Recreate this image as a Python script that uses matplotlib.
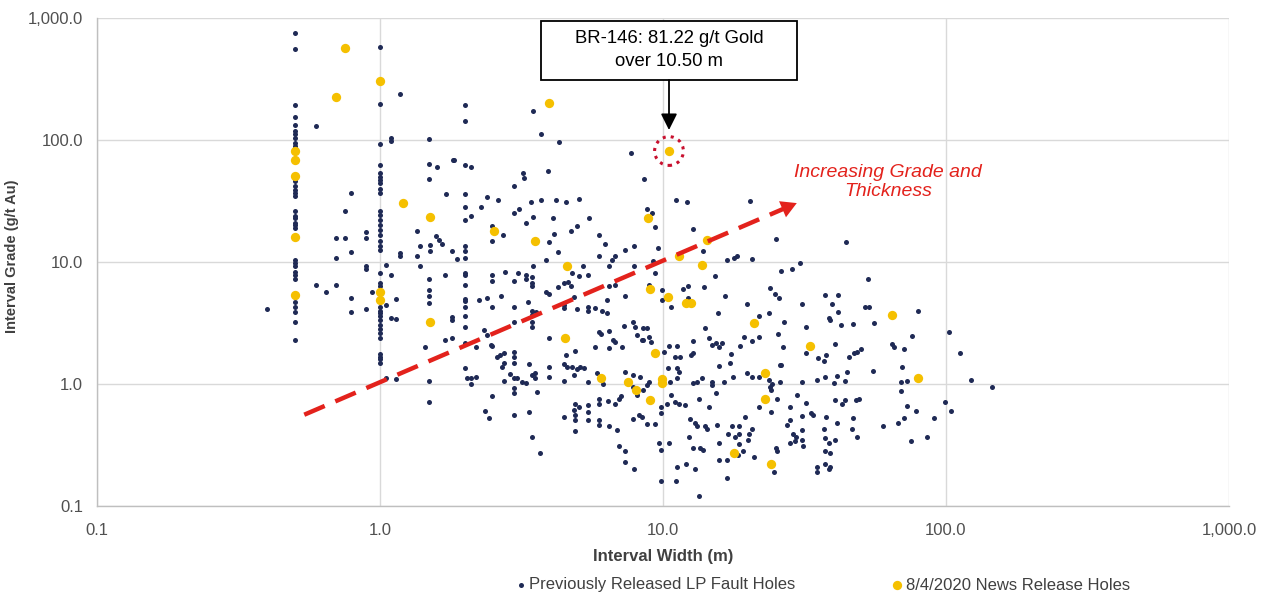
import matplotlib
matplotlib.use("Agg")
import matplotlib.pyplot as plt
from matplotlib.ticker import FuncFormatter, FixedLocator, NullLocator
from matplotlib.patches import Rectangle

plt.rcParams['font.family'] = ['Liberation Sans', 'DejaVu Sans']

# ---------------- data ----------------
col05_grade = [754, 560, 193, 155, 132, 119, 111, 103, 94, 89, 46, 42, 39, 37, 35, 26, 24, 23,
               21, 20, 19, 10.4, 9.8, 9.2, 8.3, 7.8, 7.3, 5.5, 5.2, 4.7, 4.3, 3.9, 3.2, 2.3]
col10_grade = [575, 197, 93, 62, 54, 50, 47, 44, 40, 37, 26.3, 24.4, 22.2, 20.2, 18.4, 16.7, 14.8,
               13.5, 12.6, 8.1, 6.7, 6.3, 4.3, 4.0, 3.8, 3.6, 3.35, 3.05, 2.8, 2.6, 2.4, 1.76,
               1.67, 1.59, 1.50]

prev_pts = [
    (1.18, 238), (0.594, 130), (1.09, 103), (1.09, 98), (1.49, 102), (1.49, 63), (1.59, 60), (1.49, 48),
    (1.71, 36), (1.81, 68), (0.79, 37), (0.75, 26), (1.35, 18.1), (0.89, 17.5), (0.89, 15.7), (0.70, 15.7),
    (0.75, 15.7), (1.58, 16.2), (1.61, 15.2), (1.65, 14.1), (1.39, 13.5), (1.50, 13.8), (1.50, 12.2),
    (0.79, 12.0), (1.18, 11.8), (1.18, 11.1), (0.70, 10.8), (1.35, 11.1), (1.79, 12.2), (1.05, 9.4),
    (1.39, 9.2), (0.89, 9.2),
    (0.40, 4.1), (0.594, 6.5), (0.70, 6.5), (0.645, 5.7), (0.79, 5.1), (0.79, 3.9), (0.89, 8.7), (0.89, 4.1),
    (0.94, 5.7), (1.09, 7.8), (1.14, 5.0), (1.05, 4.4), (1.09, 3.5), (1.14, 3.4), (1.05, 1.13), (1.14, 1.09),
    (1.49, 7.2), (1.49, 5.9), (1.49, 5.3), (1.49, 4.6), (1.70, 7.8), (1.70, 2.3), (1.80, 2.37), (1.44, 2.0),
    (1.49, 1.06), (1.49, 0.71),
    (1.99, 193), (1.99, 144), (3.46, 174), (3.70, 113), (4.30, 96), (7.71, 78), (1.83, 68), (1.99, 62),
    (2.09, 60), (3.92, 56), (3.19, 54), (3.23, 49), (2.98, 42), (8.57, 48), (1.99, 36), (1.99, 28),
    (1.99, 22), (2.09, 24), (2.39, 34), (2.62, 32), (2.28, 28), (3.41, 31), (3.70, 32), (4.19, 32),
    (4.56, 31), (5.06, 33), (3.11, 27), (2.98, 25), (3.46, 23.4), (3.27, 21), (4.09, 23), (5.48, 23),
    (2.48, 19.6), (2.48, 15), (2.71, 16.5), (3.97, 14.6), (4.12, 17), (4.72, 18.1), (4.95, 19.6),
    (5.93, 16.5), (6.25, 14), (4.25, 12.0), (5.93, 11.1), (7.36, 12.6), (7.93, 13.6), (6.78, 11.1),
    (6.60, 10.3), (1.87, 10.6), (1.99, 13.5), (1.99, 12.2), (1.99, 10.8), (3.86, 10.3), (5.23, 9.3),
    (6.43, 9.3), (7.87, 9.3), (3.46, 9.2),
    (1.99, 8.2), (1.99, 7.8), (1.99, 6.5), (1.99, 5.0), (1.99, 4.8), (1.99, 4.3), (1.99, 3.6), (1.99, 2.95),
    (1.99, 2.16), (1.99, 1.35), (1.80, 3.56), (1.80, 3.35), (2.03, 1.11), (2.09, 1.11), (2.18, 1.15),
    (2.09, 1.0), (2.24, 4.9), (2.39, 5.1), (2.48, 7.8), (2.48, 7.0), (2.48, 4.25), (2.68, 5.3), (2.77, 8.25),
    (2.98, 7.0), (3.08, 8.2), (3.27, 7.2), (3.45, 7.6), (3.45, 6.75), (3.45, 6.35), (3.27, 7.8), (2.98, 4.25),
    (2.98, 3.24), (3.33, 4.7), (3.45, 4.0), (3.57, 3.9), (3.45, 3.7), (3.45, 3.24), (3.45, 2.95), (3.87, 5.7),
    (3.95, 5.5), (4.25, 6.2), (4.46, 6.7), (4.61, 6.9), (4.74, 6.35), (4.83, 5.2), (4.46, 4.4), (4.46, 4.2),
    (4.95, 4.1), (4.77, 8.1), (5.04, 7.7), (5.45, 7.8), (5.45, 4.3), (5.45, 4.0), (5.77, 4.2), (6.08, 4.0),
    (6.33, 3.8), (6.33, 4.9), (6.78, 6.5), (6.43, 6.35), (7.34, 5.25),
    (5.92, 2.68), (6.04, 2.57), (6.43, 2.73), (6.78, 2.22), (6.64, 2.3), (7.15, 2.0), (5.77, 2.0), (6.43, 1.96),
    (7.29, 2.99), (7.84, 3.24), (8.08, 2.52), (8.43, 2.3), (7.95, 2.95), (3.97, 2.37), (4.88, 1.87),
    (4.55, 1.73), (4.46, 1.46), (4.58, 1.37), (4.77, 1.39), (4.95, 1.32), (5.11, 1.37), (5.25, 1.35),
    (4.83, 1.19), (3.97, 1.39), (3.97, 1.15), (4.46, 1.06),
    (2.66, 1.73), (2.59, 1.67), (2.74, 1.79), (2.97, 1.84), (2.97, 1.67), (2.74, 1.48), (2.70, 1.39),
    (2.97, 1.50), (3.36, 1.46), (2.88, 1.21), (2.97, 1.13), (2.74, 1.06), (3.05, 1.13), (3.18, 1.04),
    (3.27, 1.01), (3.45, 1.19), (3.54, 1.22), (3.52, 1.11), (3.59, 0.86), (3.36, 0.59), (3.45, 0.37),
    (3.69, 0.27), (2.97, 0.92), (2.97, 0.84), (2.97, 0.56), (2.48, 0.79), (2.35, 0.60), (2.43, 0.53),
    (2.46, 2.09), (2.18, 2.0), (2.33, 2.77), (2.39, 2.52), (2.48, 2.05), (4.46, 0.54), (4.9, 0.69),
    (4.83, 0.61), (4.9, 0.56), (4.88, 0.51), (4.88, 0.41), (5.04, 0.65), (5.45, 0.67), (5.45, 0.59),
    (5.45, 0.51), (5.92, 0.51), (5.92, 0.46), (5.92, 0.69), (5.92, 0.76), (5.84, 1.22), (6.12, 1.0),
    (5.45, 1.04), (6.38, 0.73), (6.78, 0.69), (6.97, 0.75), (6.43, 0.45), (6.86, 0.42), (6.99, 0.31),
    (7.34, 0.28), (7.34, 0.23), (7.91, 0.20), (7.34, 1.26), (7.84, 1.19), (8.27, 1.15), (7.84, 0.95),
    (8.43, 0.54), (8.2, 0.56), (7.84, 0.52), (7.09, 0.79), (8.08, 0.82),
    (11.1, 32), (12.2, 31), (20.3, 31.4), (8.77, 27), (9.14, 25), (9.4, 19.4), (12.8, 18.6), (25, 15.4),
    (9.6, 13), (13.9, 12.2), (16.9, 10.4), (17.8, 10.8), (18.2, 11.1), (20.7, 10.6), (30.6, 9.9), (9.2, 10.1),
    (9.4, 8.1), (8.9, 6.5), (9.9, 5.9), (9.9, 4.9), (10.7, 4.25), (11.8, 6.0), (12.3, 6.35), (14.0, 6.2),
    (12.3, 5.1), (15.3, 7.7), (16.5, 5.3), (15.7, 3.84), (14.1, 2.86), (12.8, 2.25), (14.5, 2.37),
    (14.9, 2.09), (15.4, 2.15), (15.8, 2.0), (16.1, 2.15), (17.4, 1.76), (17.3, 1.48), (15.8, 1.40),
    (19.8, 4.5), (21.8, 3.6), (23.6, 3.84), (23.8, 6.1), (24.9, 5.5), (25.6, 5.1), (26.1, 8.5), (28.5, 8.7),
    (30.9, 4.5), (26.7, 3.24), (32.1, 2.95), (25.4, 2.57), (21.9, 2.41), (20.6, 2.25), (19.3, 2.44),
    (18.7, 2.05), (26.6, 2.0), (32.1, 1.8), (35.4, 1.62), (37, 1.54), (37.8, 1.73), (40.6, 2.13),
    (37.5, 5.35), (38.5, 3.45), (39.0, 3.35), (39.7, 4.5), (41.5, 3.9), (41.6, 5.35), (42.4, 3.05),
    (19.8, 1.22), (20.6, 1.15), (21.8, 1.15), (23.6, 1.08), (23.9, 0.95), (24.3, 1.0), (24.0, 0.89),
    (25.9, 1.43), (26.2, 1.43), (25.9, 1.03), (21.8, 0.65), (24.1, 0.59), (25.2, 0.75), (30.9, 1.04),
    (34.9, 1.08), (37.4, 1.15), (40.1, 1.01), (41.3, 1.16),
    (29.8, 0.81), (28.1, 0.65), (32.0, 0.70), (33.4, 0.58), (33.8, 0.56), (30.9, 0.55), (28.1, 0.51),
    (27.4, 0.46), (28.9, 0.39), (29.6, 0.37), (28.1, 0.33), (31.1, 0.42), (31.1, 0.35), (29.3, 0.34),
    (31.3, 0.31), (37.0, 0.43), (37.5, 0.36), (38.5, 0.33), (39.0, 0.27), (37.5, 0.28), (39.0, 0.21),
    (37.5, 0.22), (38.5, 0.20), (40.6, 0.35), (41.3, 0.48), (40.4, 0.74), (34.9, 0.21), (34.9, 0.19),
    (25.1, 0.30), (25.2, 0.28), (24.7, 0.19),
    (18.4, 0.26), (19.2, 0.28), (18.6, 0.32), (20.0, 0.35), (20.6, 0.43), (20.2, 0.39), (19.5, 0.54),
    (18.6, 0.45), (17.9, 0.37), (18.6, 0.39), (17.0, 0.39), (17.5, 0.45), (20.9, 0.25), (16.8, 0.24),
    (15.8, 0.24), (16.8, 0.17), (15.8, 0.33), (15.5, 0.46), (14.5, 0.65), (15.4, 0.84), (14.1, 0.45),
    (13.5, 0.30), (13.9, 0.29), (13.4, 0.12),
    (13.0, 0.48), (13.2, 0.45), (12.4, 0.37), (14.3, 0.43), (12.8, 0.30), (13.0, 0.20), (11.2, 0.21),
    (12.1, 0.22), (11.1, 0.16), (9.8, 0.16), (9.8, 0.29), (9.7, 0.33), (10.5, 0.33),
    (8.8, 0.47), (9.4, 0.47), (9.8, 0.58), (9.8, 0.65), (10.3, 0.69), (10.7, 0.81), (11.0, 0.71),
    (11.4, 0.69), (12.0, 0.67), (13.4, 0.76), (12.5, 0.52), (8.8, 0.98), (8.9, 1.04), (8.5, 0.89),
    (10.6, 1.04), (11.2, 1.11), (12.8, 1.01), (13.2, 1.04), (13.7, 1.11), (14.9, 1.04), (14.9, 0.98),
    (16.4, 1.03), (17.7, 1.15), (11.2, 1.35), (11.4, 1.26), (10.4, 1.35), (11.0, 1.67), (11.5, 1.67),
    (10.1, 1.84), (10.5, 2.05), (11.2, 2.05), (12.6, 1.73), (12.8, 1.78),
    (8.5, 2.3), (8.9, 2.44), (9.1, 2.22), (8.8, 2.86), (8.5, 2.86),
    (44.3, 14.5), (52.8, 7.3), (51.9, 4.25), (53.3, 4.25), (79.4, 4.0), (47.1, 3.08), (55.8, 3.18),
    (76.0, 2.49), (102.2, 2.68), (112.5, 1.80), (64.6, 2.11), (65.6, 2.0), (71.0, 1.95), (45.3, 1.67),
    (47.4, 1.78), (48.4, 1.84), (50.1, 1.93), (55.0, 1.28), (44.8, 1.25), (43.8, 1.06), (70.0, 1.39),
    (69.6, 1.03), (72.6, 1.06), (69.2, 0.88), (123, 1.08), (145.5, 0.95), (99, 0.71), (104.5, 0.60),
    (42.8, 0.69), (44.0, 0.74), (48.0, 0.74), (49.3, 0.75), (37.6, 0.54), (47.1, 0.53), (46.7, 0.43),
    (48.3, 0.37), (72.6, 0.66), (78.6, 0.60), (91.0, 0.53), (70.9, 0.53), (67.9, 0.48), (60.0, 0.45),
    (75.2, 0.34), (85.4, 0.37),
]

news_width = [0.5, 0.5, 0.5, 0.5, 0.5, 0.75, 1.0, 0.70, 1.0, 1.0, 1.21, 1.50, 1.50, 2.53, 3.52, 3.94,
              4.59, 4.52, 6.02, 7.5, 8.03, 8.82, 9.0, 10.4, 12.1, 12.6, 11.4, 13.7, 14.3, 10.5, 9.4,
              9.0, 9.9, 9.9, 20.9, 23.0, 22.9, 24.0, 17.8, 33.0, 64.2, 79.8]
news_grade = [82, 68, 51, 16, 5.4, 568, 306, 224, 5.7, 4.9, 30.3, 23.2, 3.2, 17.8, 14.8, 200,
              9.2, 2.37, 1.11, 1.04, 0.90, 23, 6.0, 5.2, 4.6, 4.6, 11.3, 9.5, 15.2, 81.22, 1.78,
              0.74, 1.09, 1.01, 3.14, 1.22, 0.76, 0.22, 0.27, 2.05, 3.68, 1.13]

highlight = (10.50, 81.22)
trend_start = (0.54, 0.56)
trend_end = (29.7, 30.4)

x_ticks = [0.1, 1, 10, 100, 1000]
y_ticks = [0.1, 1, 10, 100, 1000]

prev_width = [0.5] * len(col05_grade) + [1.0] * len(col10_grade) + [p[0] for p in prev_pts]
prev_grade = col05_grade + col10_grade + [p[1] for p in prev_pts]

# ---------------- figure ----------------
NAVY = '#1f2a55'
GOLD = '#f5c000'
RED = '#e3221c'
GRID = '#d9d9d9'
TXT = '#505050'

fig = plt.figure(figsize=(12.66, 5.93), dpi=100)
ax = fig.add_axes([97/1266, 1 - 506/593, (1229-97)/1266, (506-18)/593])
ax.set_xscale('log')
ax.set_yscale('log')
ax.set_xlim(0.1, 1000)
ax.set_ylim(0.1, 1000)

ax.xaxis.set_major_locator(FixedLocator(x_ticks))
ax.yaxis.set_major_locator(FixedLocator(y_ticks))
ax.xaxis.set_minor_locator(NullLocator())
ax.yaxis.set_minor_locator(NullLocator())
fmt = FuncFormatter(lambda v, p: f"{v:,.1f}")
ax.xaxis.set_major_formatter(fmt)
ax.yaxis.set_major_formatter(fmt)
ax.tick_params(axis='both', length=0, labelsize=12, colors=TXT)
ax.tick_params(axis='x', pad=12)
ax.tick_params(axis='y', pad=10)
ax.grid(True, color=GRID, linewidth=1.0)
ax.set_axisbelow(True)
for s in ['top', 'right']:
    ax.spines[s].set_visible(False)
for s in ['left', 'bottom']:
    ax.spines[s].set_color('#bfbfbf')
    ax.spines[s].set_linewidth(1.0)

ax.scatter(prev_width, prev_grade, s=13, color=NAVY, linewidths=0, zorder=3,
           label='Previously Released LP Fault Holes')
ax.scatter(news_width, news_grade, s=45, color=GOLD, linewidths=0, zorder=4,
           label='8/4/2020 News Release Holes')

# highlight circle
ax.scatter([highlight[0]], [highlight[1]], s=430, facecolors='none', edgecolors='#c8102e',
           linewidths=2.2, linestyles=':', zorder=5)

# trend arrow
ax.plot([trend_start[0], trend_end[0] * 0.9], [trend_start[1], trend_end[1] * 0.9], color=RED,
        lw=3.2, dashes=(5, 2.6), solid_capstyle='butt', zorder=6)
ax.annotate('', xy=trend_end, xytext=(trend_end[0] * 0.88, trend_end[1] * 0.88),
            arrowprops=dict(arrowstyle='-|>,head_length=0.8,head_width=0.45', color=RED, lw=0,
                            mutation_scale=14, shrinkA=0, shrinkB=0), zorder=6)
ax.text((888-97)/1132, (506-182)/488, 'Increasing Grade and\nThickness', transform=ax.transAxes,
        ha='center', va='center', color=RED, fontsize=14, style='italic', linespacing=1.2)

# BR-146 call-out
bx0, bx1 = (541-97)/1132, (797-97)/1132
by0, by1 = (506-80)/488, (506-21)/488
bxc = (669-97)/1132
ax.add_patch(Rectangle((bx0, by0), bx1 - bx0, by1 - by0, transform=ax.transAxes, facecolor='white',
                       edgecolor='black', lw=1.3, zorder=7, clip_on=False))
ax.text(bxc, (506-50)/488, 'BR-146: 81.22 g/t Gold\nover 10.50 m', transform=ax.transAxes,
        ha='center', va='center', fontsize=13.3, color='black', zorder=8, linespacing=1.45)
ax.annotate('', xy=(bxc, (506-130)/488), xycoords='axes fraction',
            xytext=(bxc, by0), textcoords='axes fraction',
            arrowprops=dict(arrowstyle='-|>,head_length=0.7,head_width=0.35', color='black', lw=1.3,
                            mutation_scale=14, shrinkA=0, shrinkB=0), zorder=8)

ax.set_xlabel('Interval Width (m)', fontsize=12, fontweight='bold', color='#404040', labelpad=8)
ax.set_ylabel('Interval Grade (g/t Au)', fontsize=10.5, fontweight='bold', color='#404040')
ax.yaxis.set_label_coords((19-97)/1132, (506-256)/488)

leg = fig.legend(loc='center', bbox_to_anchor=(822/1266, 1 - 585/593), ncol=2, frameon=False,
                 fontsize=12, handletextpad=0.1, columnspacing=5.7, markerscale=1.0,
                 handlelength=0.8, borderpad=0)
for t in leg.get_texts():
    t.set_color('#404040')

fig.savefig('out.png', dpi=100)
